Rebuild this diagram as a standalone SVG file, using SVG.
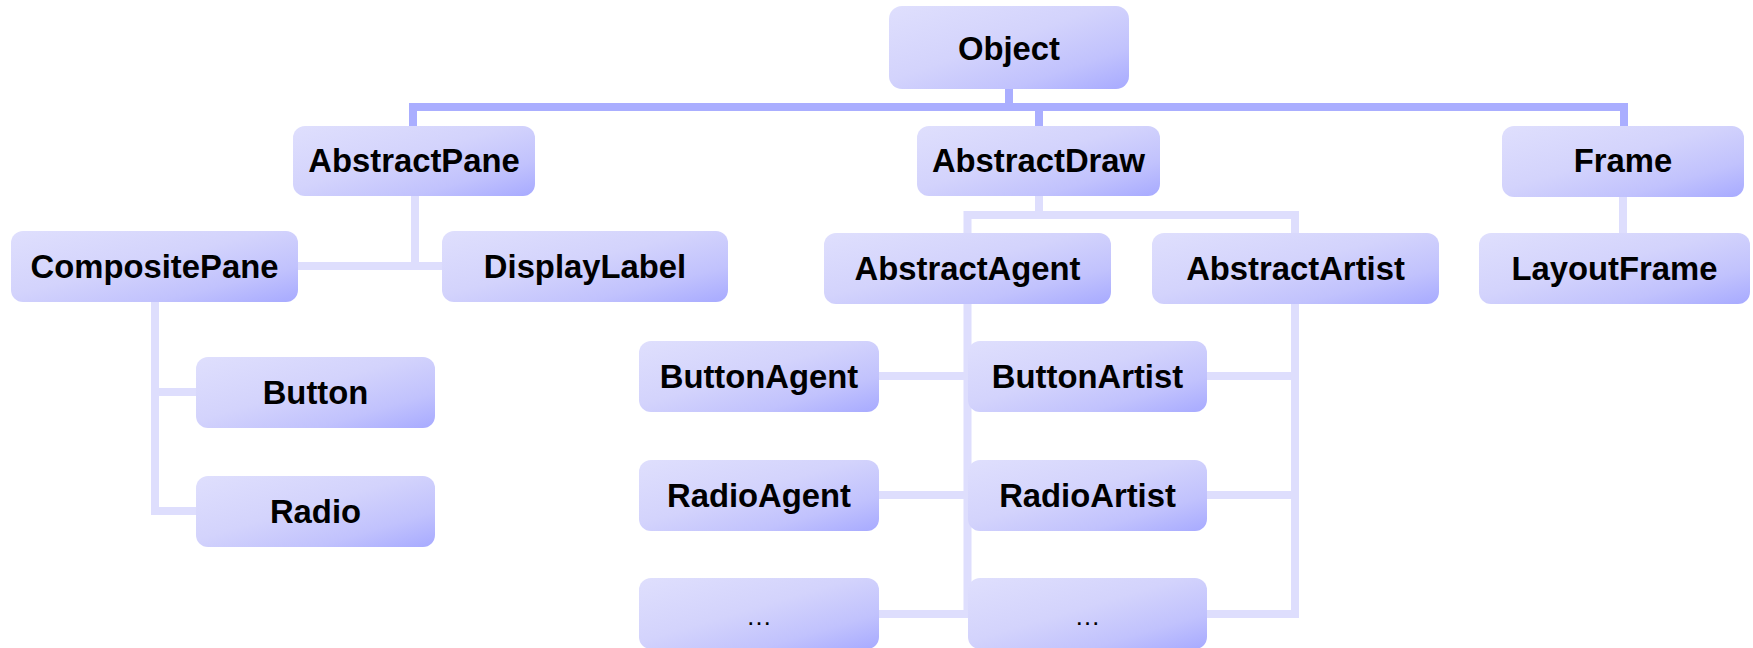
<svg xmlns="http://www.w3.org/2000/svg" width="1753" height="648" viewBox="0 0 1753 648">
  <style>
    .box { fill: url(#boxFill); }
    .lbl { font-family: "Liberation Sans", Arial, sans-serif; font-weight: bold; font-size: 32.8px; fill: #000; text-anchor: middle; }
    .dots { font-family: "Liberation Sans", Arial, sans-serif; font-size: 26px; fill: #000; text-anchor: middle; }
    .main { fill: none; stroke: #aaaeff; stroke-width: 8; }
    .sub { fill: none; stroke: #dedefd; stroke-width: 8; }
  </style>
  <defs>
    <linearGradient id="boxFill" x1="0" y1="0" x2="1" y2="1">
      <stop offset="0" stop-color="#dfdffd"/>
      <stop offset="0.45" stop-color="#d3d3fc"/>
      <stop offset="0.75" stop-color="#c1c2fd"/>
      <stop offset="1" stop-color="#a7aaff"/>
    </linearGradient>
  </defs>

  <rect width="1753" height="648" fill="#ffffff"/>

  <!-- connectors -->
  <g id="connectors">
    <!-- Object to first level -->
    <path class="main" d="M1009,89 V107"/>
    <path class="main" d="M413,127 V107 H1624 V127"/>
    <path class="main" d="M1039,107 V127"/>
    <!-- AbstractPane subtree -->
    <path class="sub" d="M415,196 V266"/>
    <path class="sub" d="M298,266 H442"/>
    <path class="sub" d="M155,302 V511 H196"/>
    <path class="sub" d="M155,392 H196"/>
    <!-- AbstractDraw subtree -->
    <path class="sub" d="M1039,196 V215"/>
    <path class="sub" d="M967.5,234 V215 H1295 V234"/>
    <path class="sub" d="M967.5,304 V614"/>
    <path class="sub" d="M1295,304 V614 H1207"/>
    <path class="sub" d="M879,376 H968"/>
    <path class="sub" d="M879,495 H968"/>
    <path class="sub" d="M879,614 H968"/>
    <path class="sub" d="M1207,376 H1295"/>
    <path class="sub" d="M1207,495 H1295"/>
    <!-- Frame subtree -->
    <path class="sub" d="M1623,197 V234"/>
  </g>

  <!-- nodes -->
  <g id="object">
    <rect class="box" x="889" y="6" width="240" height="83" rx="13"/>
    <text class="lbl" x="1009" y="60">Object</text>
  </g>
  <g id="abstract-pane">
    <rect class="box" x="293" y="126" width="242" height="70" rx="12"/>
    <text class="lbl" x="414" y="171.5">AbstractPane</text>
  </g>
  <g id="abstract-draw">
    <rect class="box" x="917" y="126" width="243" height="70" rx="12"/>
    <text class="lbl" x="1038.5" y="171.5">AbstractDraw</text>
  </g>
  <g id="frame">
    <rect class="box" x="1502" y="126" width="242" height="71" rx="12"/>
    <text class="lbl" x="1623" y="172">Frame</text>
  </g>
  <g id="composite-pane">
    <rect class="box" x="11" y="231" width="287" height="71" rx="12"/>
    <text class="lbl" x="154.5" y="277.5">CompositePane</text>
  </g>
  <g id="display-label">
    <rect class="box" x="442" y="231" width="286" height="71" rx="12"/>
    <text class="lbl" x="585" y="277.5">DisplayLabel</text>
  </g>
  <g id="abstract-agent">
    <rect class="box" x="824" y="233" width="287" height="71" rx="12"/>
    <text class="lbl" x="967.5" y="279.5">AbstractAgent</text>
  </g>
  <g id="abstract-artist">
    <rect class="box" x="1152" y="233" width="287" height="71" rx="12"/>
    <text class="lbl" x="1295.5" y="279.5">AbstractArtist</text>
  </g>
  <g id="layout-frame">
    <rect class="box" x="1479" y="233" width="271" height="71" rx="12"/>
    <text class="lbl" x="1614.5" y="279.5">LayoutFrame</text>
  </g>
  <g id="button">
    <rect class="box" x="196" y="357" width="239" height="71" rx="12"/>
    <text class="lbl" x="315.5" y="403.5">Button</text>
  </g>
  <g id="radio">
    <rect class="box" x="196" y="476" width="239" height="71" rx="12"/>
    <text class="lbl" x="315.5" y="522.5">Radio</text>
  </g>
  <g id="button-agent">
    <rect class="box" x="639" y="341" width="240" height="71" rx="12"/>
    <text class="lbl" x="759" y="387.5">ButtonAgent</text>
  </g>
  <g id="button-artist">
    <rect class="box" x="968" y="341" width="239" height="71" rx="12"/>
    <text class="lbl" x="1087.5" y="387.5">ButtonArtist</text>
  </g>
  <g id="radio-agent">
    <rect class="box" x="639" y="460" width="240" height="71" rx="12"/>
    <text class="lbl" x="759" y="506.5">RadioAgent</text>
  </g>
  <g id="radio-artist">
    <rect class="box" x="968" y="460" width="239" height="71" rx="12"/>
    <text class="lbl" x="1087.5" y="506.5">RadioArtist</text>
  </g>
  <g id="more-agents">
    <rect class="box" x="639" y="578" width="240" height="71" rx="12"/>
    <text class="dots" x="759" y="625">…</text>
  </g>
  <g id="more-artists">
    <rect class="box" x="968" y="578" width="239" height="71" rx="12"/>
    <text class="dots" x="1087.5" y="625">…</text>
  </g>
</svg>
